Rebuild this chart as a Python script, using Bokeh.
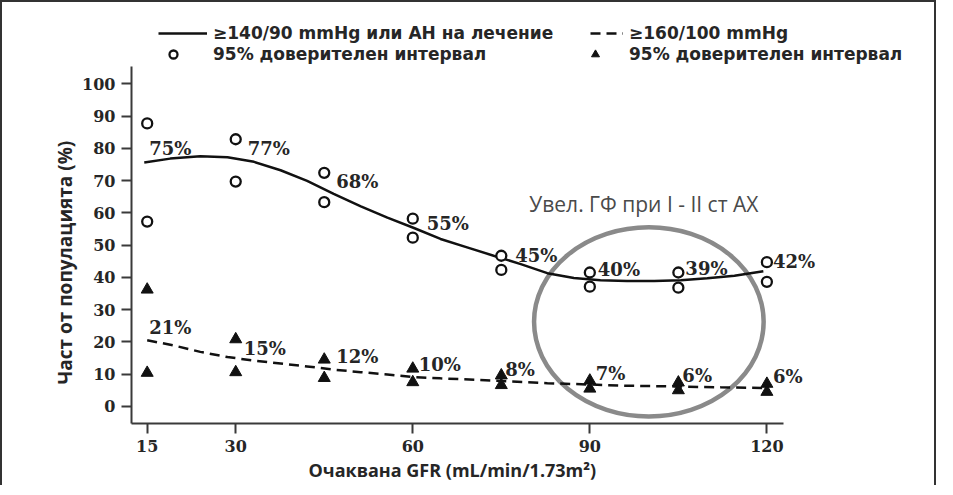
from bokeh.plotting import figure
from bokeh.models import Legend, LegendItem, FixedTicker, ColumnDataSource, Label, Title
from bokeh.core.properties import value
from bokeh.embed import file_html
from bokeh.resources import INLINE

# ---------------- data ----------------
gfr = [15, 30, 45, 60, 75, 90, 105, 120]
x_ticks = [15, 30, 60, 90, 120]
y_ticks = [0, 10, 20, 30, 40, 50, 60, 70, 80, 90, 100]

pct_140 = [75, 77, 68, 55, 45, 40, 39, 42]
ci_140_hi = [87.7, 82.8, 72.4, 58.2, 46.7, 41.5, 41.5, 44.7]
ci_140_lo = [57.3, 69.7, 63.3, 52.3, 42.3, 37.1, 36.8, 38.6]

pct_160 = [21, 15, 12, 10, 8, 7, 6, 6]
ci_160_hi = [36.2, 20.8, 14.5, 11.7, 9.6, 8.0, 7.4, 7.0]
ci_160_lo = [10.4, 10.6, 8.8, 7.5, 6.6, 5.5, 5.0, 4.5]

# fitted curves
fit_140_x = [14.5, 18.9, 24.0, 28.6, 33.1, 37.6, 42.1, 46.6, 51.2, 55.7, 60.2, 64.7,
             69.2, 73.7, 78.3, 82.8, 87.3, 91.8, 96.3, 100.9, 105.4, 109.9, 114.5, 119.4]
fit_140_y = [75.6, 76.8, 77.5, 77.2, 75.8, 73.2, 69.9, 65.9, 62.0, 58.5, 55.3, 51.9,
             49.3, 46.7, 44.1, 41.3, 39.8, 39.1, 38.9, 38.9, 39.1, 39.7, 40.5, 41.9]
fit_160_x = [15.0, 19.5, 24.0, 28.6, 33.1, 37.6, 42.1, 46.6, 51.2, 55.7, 60.2, 64.7,
             73.7, 82.8, 89.6, 96.3, 104.3, 112.2, 119.4]
fit_160_y = [20.5, 18.9, 16.9, 15.3, 14.2, 13.3, 12.4, 11.4, 10.6, 9.9, 9.1, 8.7,
             8.0, 7.2, 6.8, 6.4, 6.2, 5.9, 5.7]

legend_140 = "≥140/90 mmHg или АН на лечение"
legend_160 = "≥160/100 mmHg"
legend_ci = "95% доверителен интервал"
x_title = "Очаквана GFR (mL/min/1.73m²)"
y_title = "Част от популацията (%)"
note_text = "Увел. ГФ при I - II ст АХ"
# highlighted region (ellipse) in data units
hl_x, hl_y, hl_w, hl_h = 100, 26.2, 38.9, 58.6

# axis extents (data units) and extra drawing room beyond them
x_axis_span = (12.34, 122.85)
y_axis_span = (-5.3, 105.3)
x_view = (12.34, 148.4)
y_view = (-5.3, 122.4)

# label nudges in pixels (style only)
dx_140 = [2, 12, 12, 14, 14, 8, 7, 6]
dy_140 = [-16, -9, -6, -5, -6, -8, -12, -9]
dx_160 = [2, 8, 12, 6, 4, 6, 4, 6]
dy_160 = [-11, -10, -11, -10, -11, -10, -12, -11]

# ---------------- figure ----------------
SANS = "Open Sans"
LEG = "DejaVu Sans"
SERIF = "DejaVu Serif"
INK = "#262626"

p = figure(width=936, height=485, output_backend="svg", toolbar_location=None,
           x_range=x_view, y_range=y_view,
           min_border_left=129, min_border_right=4, min_border_top=9, min_border_bottom=64)
p.styles = {"border-top": "2px solid #333", "border-left": "2px solid #333",
            "border-right": "2px solid #333"}
p.outline_line_color = None
p.xgrid.visible = False
p.ygrid.visible = False
p.background_fill_color = "white"
p.border_fill_color = "white"

for ax in (p.xaxis[0], p.yaxis[0]):
    ax.axis_line_color = "#3a3a3a"
    ax.axis_line_width = 2
    ax.major_tick_line_color = "#3a3a3a"
    ax.major_tick_line_width = 2
    ax.major_tick_out = 10
    ax.major_tick_in = 0
    ax.minor_tick_line_color = None
    ax.major_label_text_font = SERIF
    ax.major_label_text_font_style = "bold"
    ax.major_label_text_font_size = "16px"
    ax.major_label_text_color = INK

p.xaxis.bounds = x_axis_span
p.yaxis.bounds = y_axis_span
p.xaxis.ticker = FixedTicker(ticks=x_ticks)
p.yaxis.ticker = FixedTicker(ticks=y_ticks)
p.xaxis.major_label_standoff = 6
p.yaxis.major_label_standoff = 6

# axis titles as side titles so they centre on the drawn axes, not on the frame
p.add_layout(Title(text=y_title, align="left", offset=39, standoff=4, text_font=SANS,
                   text_font_style="bold", text_font_size="19px", text_color=INK), "left")
p.add_layout(Title(text=x_title, align="left", offset=177, standoff=2, text_font=SANS,
                   text_font_style="bold", text_font_size="18px", text_color=INK), "below")

# highlight ellipse
p.ellipse(x=[hl_x], y=[hl_y], width=[hl_w], height=[hl_h], fill_color=None,
          line_color="#8a8a8a", line_width=4.5)
p.add_layout(Label(x=hl_x, y=hl_y + hl_h / 2 + 7.2, text=note_text, text_align="center",
                   text_baseline="middle", text_font=SANS, text_font_size="21px",
                   text_color="#4a4a4a", x_offset=-5))

# curves
r_140 = p.line(fit_140_x, fit_140_y, line_color="#111", line_width=2.5)
r_160 = p.line(fit_160_x, fit_160_y, line_color="#111", line_width=2.5, line_dash="10 6")

# confidence interval markers
ci_x = gfr + gfr
r_ci140 = p.scatter(ci_x, ci_140_hi + ci_140_lo, marker="circle", size=10,
                    fill_color="white", line_color="#111", line_width=2.3)
r_ci160 = p.scatter(ci_x, ci_160_hi + ci_160_lo, marker="triangle", size=12,
                    fill_color="#111", line_color="#111", line_width=1)

# value labels
src_140 = ColumnDataSource(dict(x=gfr, y=pct_140, t=[f"{v}%" for v in pct_140],
                                dx=dx_140, dy=dy_140))
src_160 = ColumnDataSource(dict(x=gfr, y=pct_160, t=[f"{v}%" for v in pct_160],
                                dx=dx_160, dy=dy_160))
for src in (src_140, src_160):
    p.text(x="x", y="y", text="t", x_offset="dx", y_offset="dy", source=src,
           text_font=value(SERIF), text_font_style="bold", text_font_size="18px",
           text_color=INK, text_align="left", text_baseline="middle")

# legends (frame-relative screen positions)
def add_legend(label, renderer, loc, gw, standoff):
    lg = Legend(items=[LegendItem(label=label, renderers=[renderer])], location=loc,
                glyph_width=gw, glyph_height=20, label_height=20, label_standoff=standoff,
                padding=0, margin=0, spacing=0, background_fill_alpha=0,
                border_line_alpha=0, label_text_font=LEG, label_text_font_style="bold",
                label_text_font_size="17px", label_text_color=INK)
    p.add_layout(lg)

add_legend(legend_140, r_140, (27, 380), 49, 6)
add_legend(legend_ci, r_ci140, (27, 359), 30, 25)
add_legend(legend_160, r_160, (459, 380), 33, 6)
add_legend(legend_ci, r_ci160, (449, 359), 30, 19)

open("out.html", "w").write(file_html(p, INLINE))
